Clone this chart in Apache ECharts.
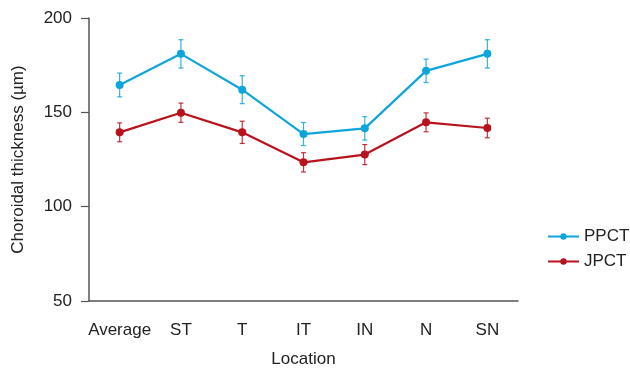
<!DOCTYPE html>
<html><head><meta charset="utf-8">
<script src="https://cdn.jsdelivr.net/npm/echarts@6/dist/echarts.min.js"></script>
<style>html,body{margin:0;padding:0;background:#fff}#c{width:630px;height:369px}</style>
</head><body><div id="c"></div>
<script>
const categories = ['Average','ST','T','IT','IN','N','SN'];
const ppct = [164.5, 181, 162, 138.5, 141.5, 172, 181];
const ppctErr = [6.3, 7.5, 7.4, 6.1, 6.2, 6.2, 7.5];
const jpct = [139.4, 149.8, 139.4, 123.5, 127.6, 144.7, 141.7];
const jpctErr = [5, 5.1, 5.9, 5.1, 5.3, 5, 5.2];
const yTicks = [50, 100, 150, 200];

const blue = '#0ea5dd', red = '#b8121d';
const font = 'Liberation Sans, Arial, sans-serif';

function errSeries(vals, errs, color) {
  return {
    type: 'custom',
    data: vals.map((v, i) => [i, v - errs[i], v + errs[i]]),
    z: 1,
    silent: true,
    renderItem: function (params, api) {
      const lo = api.coord([api.value(0), api.value(1)]);
      const hi = api.coord([api.value(0), api.value(2)]);
      const w = 2.5;
      const st = {stroke: color, lineWidth: 1.2, opacity: 0.85};
      return {type: 'group', children: [
        {type: 'line', shape: {x1: lo[0], y1: lo[1], x2: hi[0], y2: hi[1]}, style: st},
        {type: 'line', shape: {x1: lo[0]-w, y1: lo[1], x2: lo[0]+w, y2: lo[1]}, style: st},
        {type: 'line', shape: {x1: hi[0]-w, y1: hi[1], x2: hi[0]+w, y2: hi[1]}, style: st}
      ]};
    }
  };
}

const chart = echarts.init(document.getElementById('c'));
chart.setOption({
  animation: false,
  grid: {left: 89, top: 18, right: 112, bottom: 68, containLabel: false, outerBoundsMode: 'none'},
  legend: {
    orient: 'vertical', left: 547, top: 228, padding: 0, itemWidth: 31, itemHeight: 8, itemGap: 8,
    textStyle: {fontFamily: font, fontSize: 17, color: '#222'},
    data: ['PPCT', 'JPCT']
  },
  xAxis: {
    type: 'category', data: categories, boundaryGap: true,
    name: 'Location', nameLocation: 'middle', nameGap: 50,
    nameTextStyle: {fontFamily: font, fontSize: 17, color: '#222'},
    axisLine: {lineStyle: {color: '#555', width: 1.5}},
    axisTick: {alignWithLabel: true, length: 8, lineStyle: {color: '#555', width: 1.2}},
    axisLabel: {fontFamily: font, fontSize: 17, color: '#222', margin: 21, interval: 0}
  },
  yAxis: {
    type: 'value', min: 50, max: 200, interval: 50,
    name: 'Choroidal thickness (µm)', nameLocation: 'middle', nameGap: 62, nameRotate: 90,
    nameTextStyle: {fontFamily: font, fontSize: 17, color: '#222'},
    splitLine: {show: false},
    axisLine: {show: true, lineStyle: {color: '#555', width: 1.5}},
    axisTick: {show: true, length: 8, lineStyle: {color: '#555', width: 1.2}},
    axisLabel: {fontFamily: font, fontSize: 17, color: '#222', margin: 17,
      formatter: v => yTicks.includes(v) ? String(v) : ''}
  },
  series: [
    errSeries(ppct, ppctErr, blue),
    errSeries(jpct, jpctErr, red),
    {name: 'PPCT', type: 'line', data: ppct, color: blue, symbol: 'circle', symbolSize: 8,
     lineStyle: {width: 2.2}, z: 3},
    {name: 'JPCT', type: 'line', data: jpct, color: red, symbol: 'circle', symbolSize: 8,
     lineStyle: {width: 2.2}, z: 3}
  ]
});
</script></body></html>
